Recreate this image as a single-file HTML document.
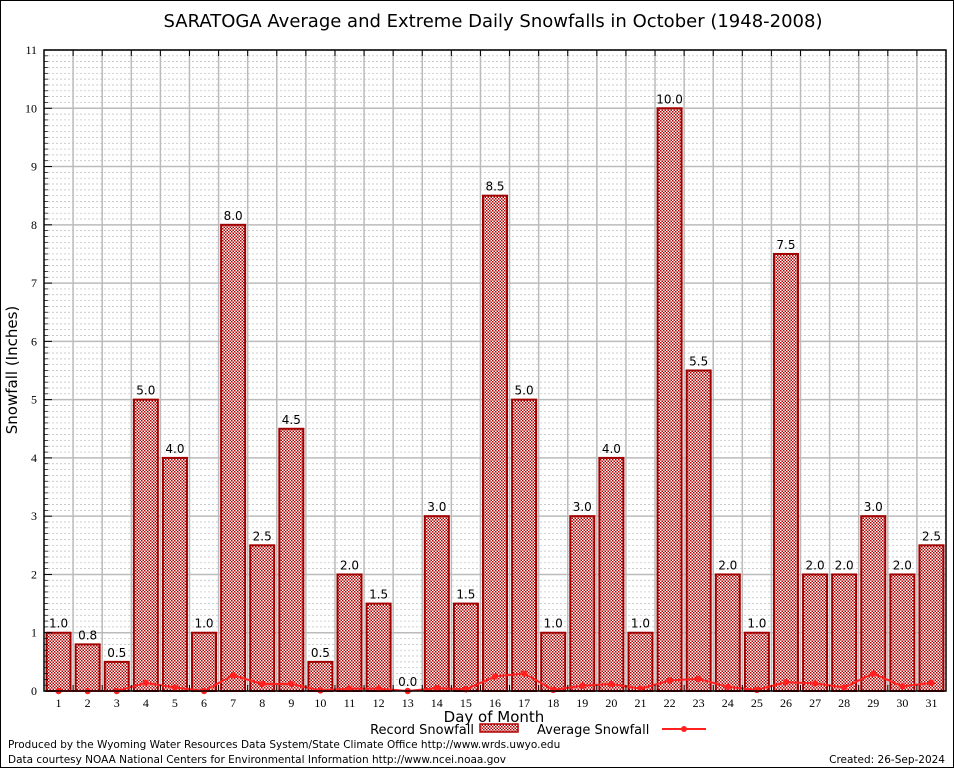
<!DOCTYPE html>
<html><head><meta charset="utf-8"><style>
body{margin:0;background:#fff;}
svg{display:block;font-family:"DejaVu Sans","Liberation Sans",sans-serif;}
.tk{font-family:"Liberation Serif","DejaVu Serif",serif;font-size:12px;}
</style></head><body>
<svg id="chart" width="954" height="768" viewBox="0 0 954 768" xmlns="http://www.w3.org/2000/svg">
<defs>
<pattern id="chk" width="3" height="3" patternUnits="userSpaceOnUse">
<rect width="3" height="3" fill="#fff"/>
<rect width="1.5" height="1.5" fill="#b00000"/>
<rect x="1.5" y="1.5" width="1.5" height="1.5" fill="#b00000"/>
</pattern>
</defs>
<rect x="0.5" y="0.5" width="953" height="767" fill="#fff" stroke="#000"/>
<text x="493" y="27" text-anchor="middle" font-size="18">SARATOGA Average and Extreme Daily Snowfalls in October (1948-2008)</text>
<g id="grid"></g>
<g id="bars"></g>
<g id="avg"></g>
<g id="axes"></g>
<text x="17" y="370" transform="rotate(-90 17 370)" text-anchor="middle" font-size="15">Snowfall (Inches)</text>
<text x="494" y="722" text-anchor="middle" font-size="15">Day of Month</text>
<g>
<text x="474" y="734" text-anchor="end" font-size="13">Record Snowfall</text>
<rect x="480" y="724" width="38" height="8" fill="url(#chk)" stroke="#b00000" stroke-width="1.5"/>
<text x="537" y="734" font-size="13">Average Snowfall</text>
<line x1="662" y1="729" x2="706" y2="729" stroke="#ff2020" stroke-width="2"/>
<circle cx="684" cy="729" r="3" fill="#ff2020"/>
</g>
<text x="8" y="748" font-size="10.5">Produced by the Wyoming Water Resources Data System/State Climate Office http://www.wrds.uwyo.edu</text>
<text x="8" y="763" font-size="10.5">Data courtesy NOAA National Centers for Environmental Information http://www.ncei.noaa.gov</text>
<text x="945" y="763" text-anchor="end" font-size="10.5">Created: 26-Sep-2024</text>
</svg>
<script>
const days = [1,2,3,4,5,6,7,8,9,10,11,12,13,14,15,16,17,18,19,20,21,22,23,24,25,26,27,28,29,30,31];
const recordSnow = [1.0,0.8,0.5,5.0,4.0,1.0,8.0,2.5,4.5,0.5,2.0,1.5,0.0,3.0,1.5,8.5,5.0,1.0,3.0,4.0,1.0,10.0,5.5,2.0,1.0,7.5,2.0,2.0,3.0,2.0,2.5];
const avgSnow = [0.0,0.0,0.0,0.14,0.06,0.0,0.27,0.12,0.12,0.01,0.04,0.04,0.0,0.05,0.03,0.25,0.30,0.02,0.09,0.12,0.04,0.18,0.21,0.07,0.02,0.15,0.13,0.06,0.30,0.08,0.14];
const yTicks = [0,1,2,3,4,5,6,7,8,9,10,11];

const L=44,R=946,T=50,B=691;
const xs=d=>L+(d-0.5)*(R-L)/31;
const ys=v=>B-v*(B-T)/11;
const NS="http://www.w3.org/2000/svg";
function mk(parent,tag,attrs){const e=document.createElementNS(NS,tag);for(const k in attrs)e.setAttribute(k,attrs[k]);parent.appendChild(e);return e;}
const grid=document.getElementById('grid'),bars=document.getElementById('bars'),avg=document.getElementById('avg'),axes=document.getElementById('axes');

for(let i=1;i<110;i++){ if(i%10===0)continue;
  const l=mk(grid,'line',{x1:L,x2:R,y1:ys(i/10),y2:ys(i/10),stroke:'#bbb','stroke-width':0.7,'stroke-dasharray':'2,2'});
  
  
}
yTicks.forEach(v=>{
  const l=mk(grid,'line',{x1:L,x2:R,y1:ys(v),y2:ys(v),stroke:'#bbb','stroke-width':1.5});
  
  
  const t=mk(axes,'text',{x:L-7,y:ys(v)+4,'text-anchor':'end',class:'tk'});t.textContent=v;
  
  
  mk(axes,'line',{x1:L,x2:L+8,y1:ys(v),y2:ys(v),stroke:'#000'});
});
for(let i=1;i<31;i++){
  const x=xs(i+0.5);
  const l=mk(grid,'line',{x1:x,x2:x,y1:T,y2:B,stroke:'#bbb','stroke-width':1.5});
  
  
  mk(axes,'line',{x1:x,x2:x,y1:T,y2:T+6,stroke:'#000'});
  mk(axes,'line',{x1:x,x2:x,y1:B,y2:B-6,stroke:'#000'});
}
for(let i=1;i<110;i++){ if(i%10===0)continue; mk(axes,'line',{x1:L,x2:L+4,y1:ys(i/10),y2:ys(i/10),stroke:'#000','stroke-width':0.7}); }

const bw=24;
days.forEach((d,i)=>{
  const v=recordSnow[i];
  const r=mk(bars,'rect',{x:xs(d)-bw/2,y:ys(v),width:bw,height:B-ys(v),fill:'url(#chk)',stroke:'#a00000','stroke-width':2});
  
  
  const t=mk(bars,'text',{x:xs(d),y:ys(v)-5,'text-anchor':'middle','font-size':12});
  t.textContent=v.toFixed(1);
  
  
  const xt=mk(axes,'text',{x:xs(d),y:B+16,'text-anchor':'middle',class:'tk'});xt.textContent=d;
  
  
});

const pl=mk(avg,'polyline',{points:days.map((d,i)=>xs(d)+','+ys(avgSnow[i])).join(' '),fill:'none',stroke:'#ff2020','stroke-width':2});


days.forEach((d,i)=>{
  const c=mk(avg,'circle',{cx:xs(d),cy:ys(avgSnow[i]),r:3.2,fill:'#ff2020'});
  
  
});

const fr=mk(axes,'rect',{x:L,y:T,width:R-L,height:B-T,fill:'none',stroke:'#000','stroke-width':1.5});


</script>
</body></html>
